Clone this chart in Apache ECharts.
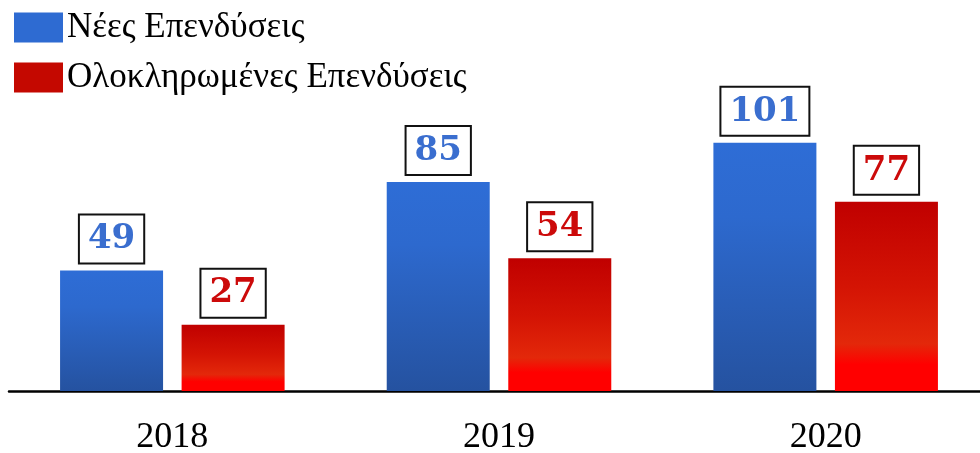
<!DOCTYPE html>
<html><head><meta charset="utf-8">
<script src="https://cdn.jsdelivr.net/npm/echarts@6/dist/echarts.min.js"></script>
<style>html,body{margin:0;padding:0;background:#fff}#c{width:980px;height:453px}</style>
</head><body><div id="c"></div>
<script>
const categories = ['2018', '2019', '2020'];
const newInvest = [49, 85, 101];
const completedInvest = [27, 54, 77];
const seriesNames = ['Νέες Επενδύσεις', 'Ολοκληρωμένες Επενδύσεις'];

const chart = echarts.init(document.getElementById('c'));
const blueGrad = new echarts.graphic.LinearGradient(0,0,0,1,[
  {offset:0,color:'#2E6DD6'},{offset:0.3,color:'#2D69CE'},{offset:1,color:'#2552A0'}]);
const redGrad = new echarts.graphic.LinearGradient(0,0,0,1,[
  {offset:0,color:'#C00000'},{offset:0.45,color:'#D41404'},{offset:0.75,color:'#E3280A'},{offset:0.86,color:'#FF0000'},{offset:1,color:'#FF0000'}]);
function lbl(color){
  return {show:true,position:'top',distance:8,color:color,fontFamily:'DejaVu Serif',fontWeight:'bold',fontSize:34,
    backgroundColor:'#fff',borderColor:'#111',borderWidth:2,padding:[6,8,5,8],lineHeight:36};
}
chart.setOption({
  animation:false,
  legend:{orient:'vertical',left:14,top:10,padding:0,itemWidth:49,itemHeight:30,itemGap:15,icon:'rect',
    textStyle:{fontFamily:'Liberation Serif',fontSize:35,lineHeight:30,color:'#000',padding:[0,0,0,-1]},
    data:[{name:seriesNames[0],itemStyle:{color:'#2E6BD2'}},{name:seriesNames[1],itemStyle:{color:'#C40800'}}]},
  grid:{left:9,width:980,top:96,bottom:62,containLabel:false,outerBoundsMode:'none'},
  xAxis:{type:'category',data:categories,axisTick:{show:false},
    axisLine:{lineStyle:{color:'#000',width:2.5}},
    axisLabel:{fontFamily:'Liberation Serif',fontSize:36,color:'#000',margin:29}},
  yAxis:{type:'value',min:0,max:120,show:false,splitLine:{show:false}},
  series:[
    {name:seriesNames[0],type:'bar',data:newInvest,barWidth:103,barGap:'18%',itemStyle:{color:blueGrad},label:lbl('#3A6ECF')},
    {name:seriesNames[1],type:'bar',data:completedInvest,barWidth:103,itemStyle:{color:redGrad},label:lbl('#CC0A0A')}
  ]
});
</script></body></html>
